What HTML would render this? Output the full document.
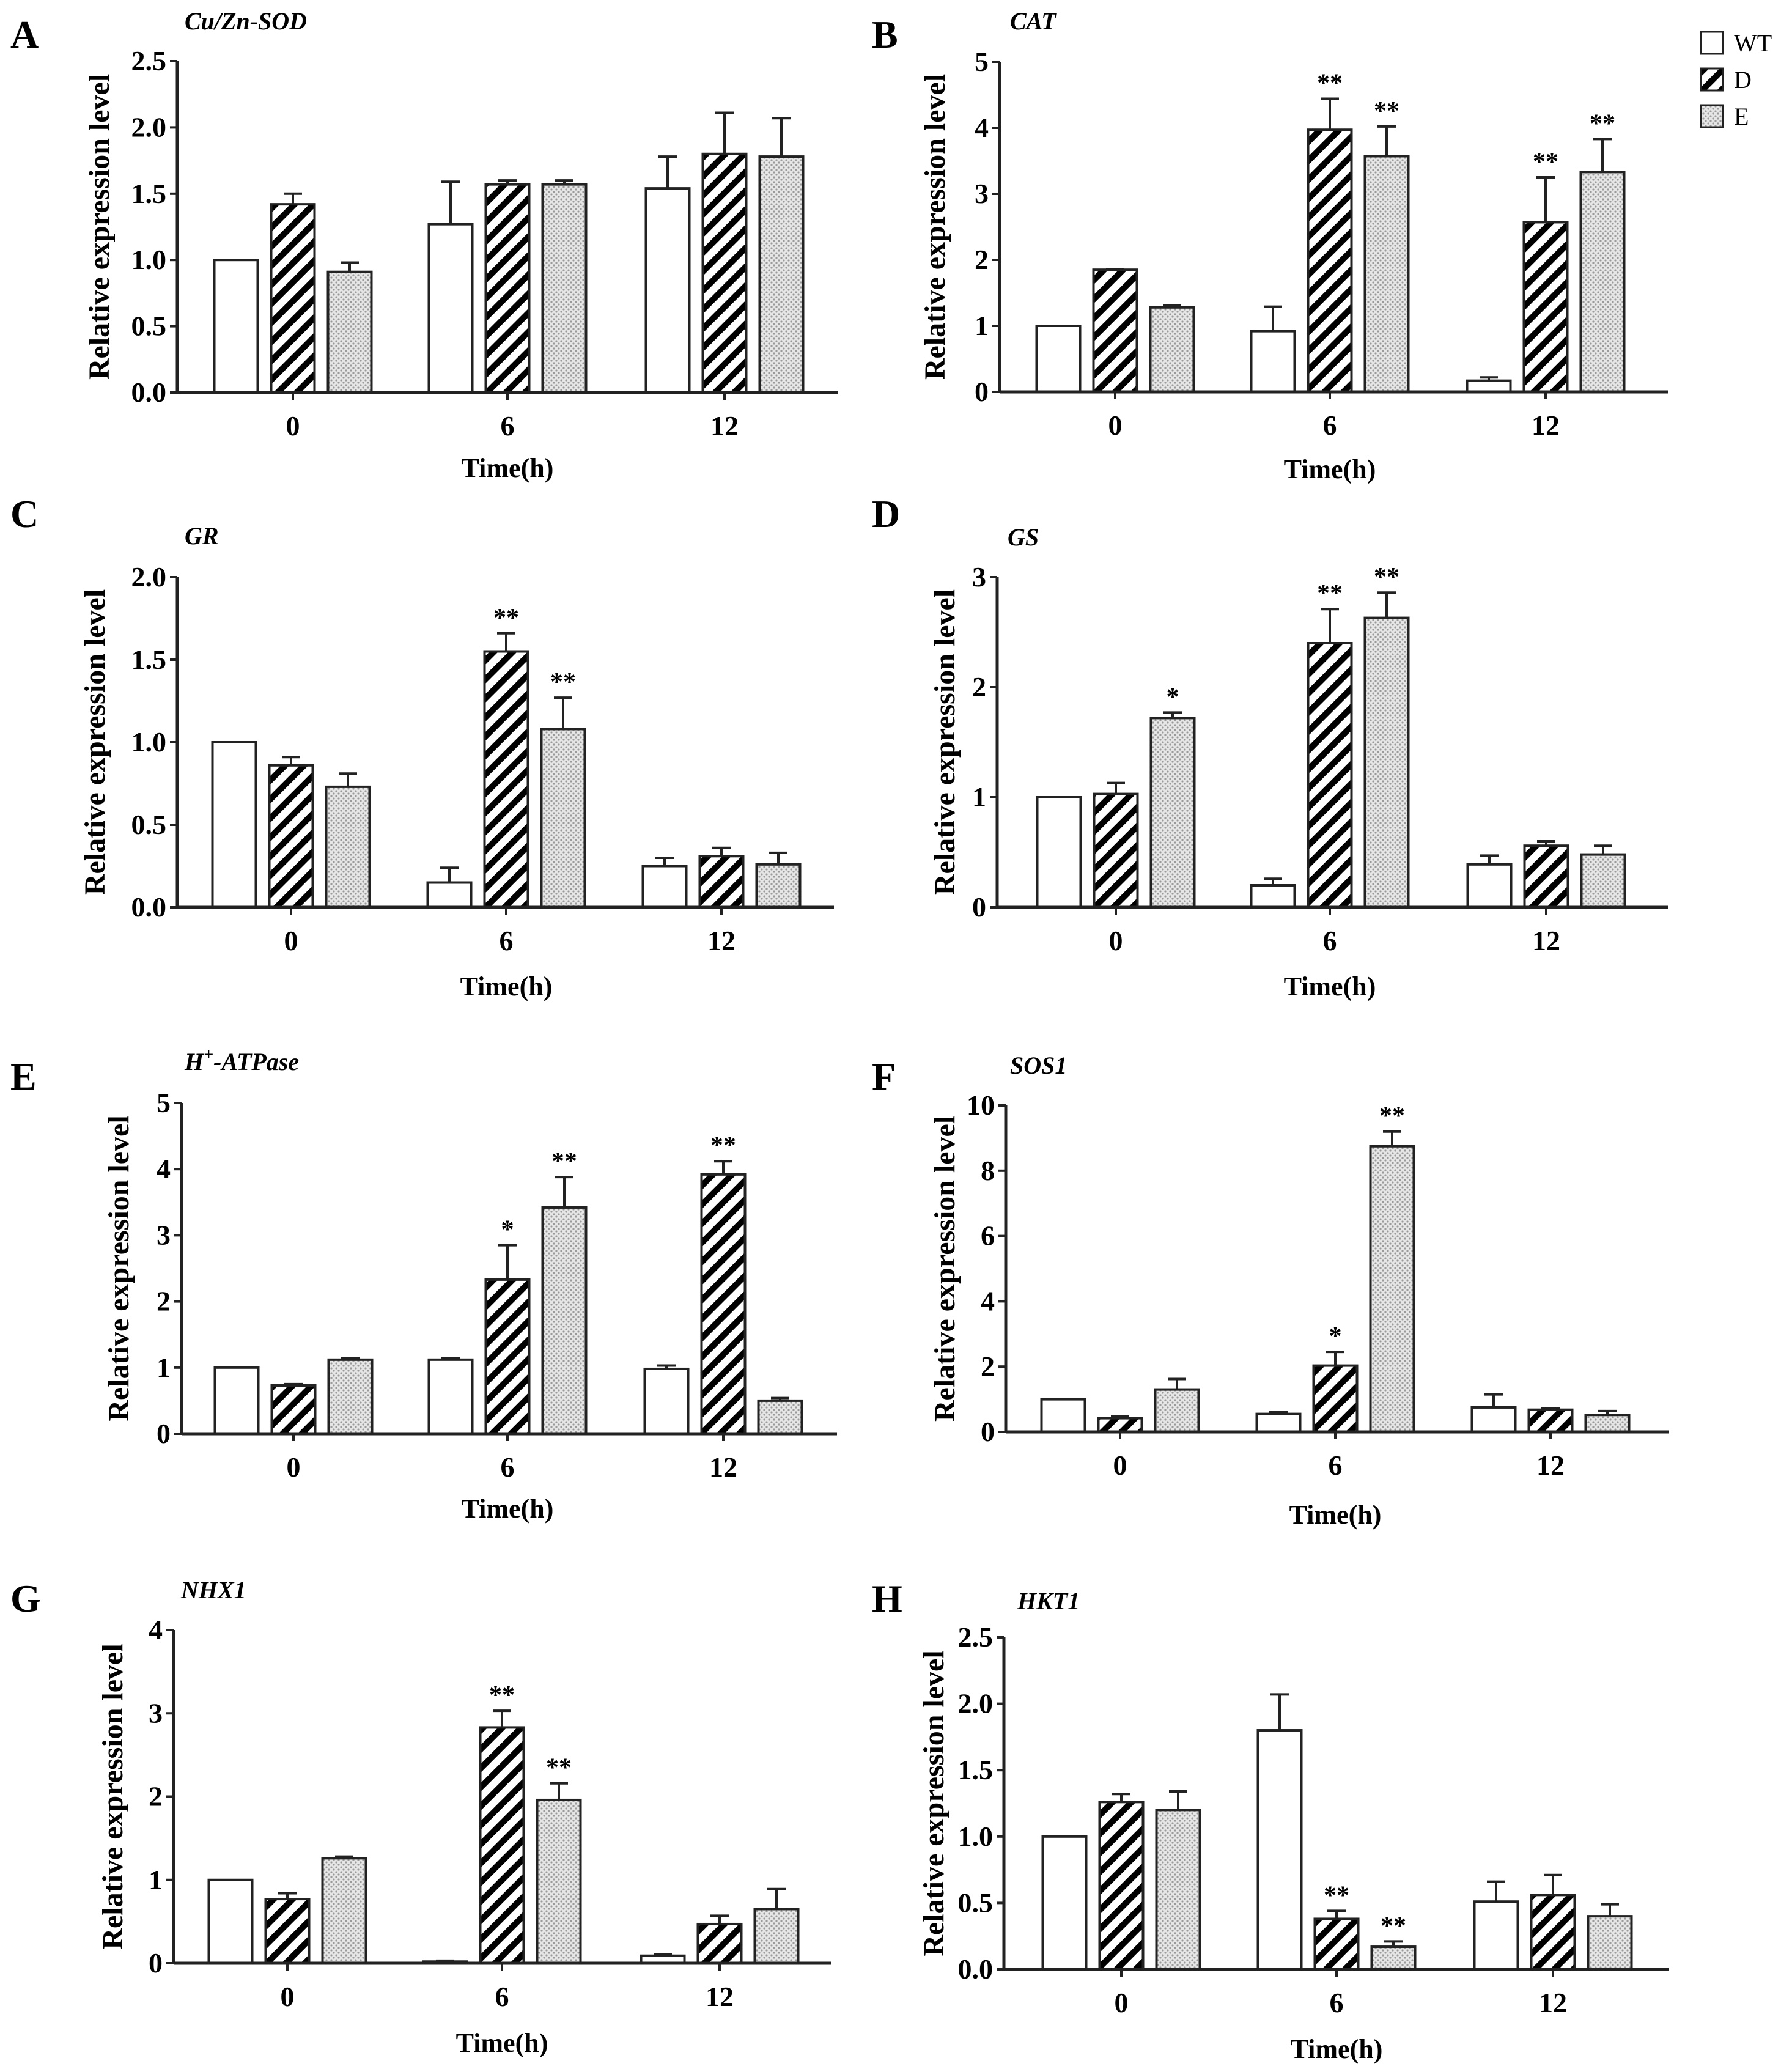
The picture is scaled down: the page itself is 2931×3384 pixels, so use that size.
<!DOCTYPE html>
<html><head><meta charset="utf-8"><style>
html,body{margin:0;padding:0;background:#fff;}
svg{display:block;font-family:"Liberation Serif",serif;}
</style></head><body>
<svg id="fig" width="2931" height="3384" viewBox="0 0 2931 3384" xmlns="http://www.w3.org/2000/svg">
<defs>
<pattern id="hatch" patternUnits="userSpaceOnUse" width="22" height="22" patternTransform="rotate(45)">
<rect width="22" height="22" fill="#fff"/><rect x="0" y="0" width="10" height="22" fill="#000"/>
</pattern>
<pattern id="dots" patternUnits="userSpaceOnUse" width="8" height="8">
<rect width="8" height="8" fill="#e6e6e6"/><circle cx="2" cy="2" r="1.6" fill="#9a9a9a"/><circle cx="6" cy="6" r="1.6" fill="#9a9a9a"/>
</pattern>
</defs>
</svg>
<script>
// ---- data ----
const categories = ["0","6","12"];
const seriesNames = ["WT","D","E"];
const panelLetters = ["A","B","C","D","E","F","G","H"];
const panelTitles = ["Cu/Zn-SOD","CAT","GR","GS","H+-ATPase","SOS1","NHX1","HKT1"];
const yMax = [2.5,5,2,3,5,10,4,2.5];
const yStep = [0.5,1,0.5,1,1,2,1,0.5];
const yDecimals = [1,0,1,0,0,0,0,1];
const wtValues = [[1,1.27,1.54],[1,0.92,0.17],[1,0.15,0.25],[1,0.2,0.39],[1,1.12,0.98],[1,0.55,0.75],[1,0.02,0.09],[1,1.8,0.51]];
const dValues = [[1.42,1.57,1.8],[1.85,3.97,2.57],[0.86,1.55,0.31],[1.03,2.4,0.56],[0.73,2.33,3.92],[0.42,2.03,0.68],[0.77,2.83,0.47],[1.26,0.38,0.56]];
const eValues = [[0.91,1.57,1.78],[1.28,3.57,3.33],[0.73,1.08,0.26],[1.72,2.63,0.48],[1.12,3.42,0.5],[1.3,8.75,0.52],[1.26,1.96,0.65],[1.2,0.17,0.4]];
const wtErr = [[0,0.32,0.24],[0,0.37,0.05],[0,0.09,0.05],[0,0.06,0.08],[0,0.02,0.05],[0,0.05,0.4],[0,0.01,0.02],[0,0.27,0.15]];
const dErr = [[0.08,0.03,0.31],[0.01,0.47,0.68],[0.05,0.11,0.05],[0.1,0.31,0.04],[0.02,0.52,0.2],[0.05,0.42,0.04],[0.07,0.2,0.1],[0.06,0.06,0.15]];
const eErr = [[0.07,0.03,0.29],[0.03,0.45,0.5],[0.08,0.19,0.07],[0.05,0.23,0.08],[0.02,0.46,0.04],[0.32,0.45,0.12],[0.02,0.2,0.24],[0.14,0.04,0.09]];
const wtStars = [["","",""],["","",""],["","",""],["","",""],["","",""],["","",""],["","",""],["","",""]];
const dStars = [["","",""],["","**","**"],["","**",""],["","**",""],["","*","**"],["","*",""],["","**",""],["","**",""]];
const eStars = [["","",""],["","**","**"],["","**",""],["*","**",""],["","**",""],["","**",""],["","**",""],["","**",""]];
// ---- layout ----
const L = [
 {ax:290,top:100,bot:642,ticks:[479,830,1185],right:1370,ylx:162,xly:780,tx:302,ty:48,lx:17,ly:78},
 {ax:1635,top:101,bot:641,ticks:[1824,2175,2528],right:2728,ylx:1529,xly:782,tx:1652,ty:48,lx:1426,ly:78},
 {ax:290,top:944,bot:1484,ticks:[476,828,1180],right:1364,ylx:155,xly:1628,tx:302,ty:890,lx:17,ly:862},
 {ax:1631,top:944,bot:1484,ticks:[1825,2175,2529],right:2728,ylx:1545,xly:1628,tx:1648,ty:892,lx:1426,ly:862},
 {ax:297,top:1804,bot:2345,ticks:[480,830,1183],right:1369,ylx:194,xly:2482,tx:302,ty:1750,lx:17,ly:1782},
 {ax:1645,top:1808,bot:2342,ticks:[1832,2184,2536],right:2730,ylx:1545,xly:2492,tx:1652,ty:1756,lx:1426,ly:1782},
 {ax:284,top:2666,bot:3211,ticks:[470,821,1177],right:1360,ylx:184,xly:3356,tx:296,ty:2614,lx:17,ly:2636},
 {ax:1642,top:2678,bot:3221,ticks:[1834,2186,2540],right:2730,ylx:1527,xly:3366,tx:1664,ty:2632,lx:1426,ly:2636}
];
const NS="http://www.w3.org/2000/svg";
const svg=document.getElementById('fig');
function mk(tag,attrs,parent,text){const e=document.createElementNS(NS,tag);for(const k in attrs)e.setAttribute(k,attrs[k]);if(text!==undefined)e.textContent=text;(parent||svg).appendChild(e);return e;}
const fills=["#fff","url(#hatch)","url(#dots)"];
const BW=71, OFF=93;
for(let p=0;p<8;p++){
  const g=mk('g',{});
  
  
  const c=L[p];
  const y=v=>c.bot-(v/yMax[p])*(c.bot-c.top);
  const lt=mk('text',{x:c.lx,y:c.ly,'font-size':64,'font-weight':'bold'},g,panelLetters[p]);
  
  
  const tt=mk('text',{x:c.tx,y:c.ty,'font-size':40,'font-weight':'bold','font-style':'italic'},g);
  
  
  if(panelTitles[p]==="H+-ATPase"){tt.textContent="H";mk('tspan',{dy:-16,'font-size':28},tt,"+");mk('tspan',{dy:16},tt,"-ATPase");}
  else tt.textContent=panelTitles[p];
  const vals=[wtValues[p],dValues[p],eValues[p]], errs=[wtErr[p],dErr[p],eErr[p]], stars=[wtStars[p],dStars[p],eStars[p]];
  for(let s=0;s<3;s++)for(let i=0;i<3;i++){
    const cx=c.ticks[i]+(s-1)*OFF, top=y(vals[s][i]), et=y(vals[s][i]+errs[s][i]);
    if(errs[s][i]>0){
      const el=mk('path',{d:`M${cx} ${top}V${et}M${cx-15} ${et}H${cx+15}`,stroke:'#222','stroke-width':4,fill:'none'},g);
      
      
    }
    const r=mk('rect',{x:cx-BW/2,y:top,width:BW,height:c.bot-top,fill:fills[s],stroke:'#222','stroke-width':4},g);
    
    
    if(stars[s][i]){
      const st=mk('text',{x:cx,y:et-12,'font-size':42,'font-weight':'bold','text-anchor':'middle'},g,stars[s][i]);
      
      
    }
  }
  const ya=mk('path',{d:`M${c.ax} ${c.top}V${c.bot}`,stroke:'#222','stroke-width':5,fill:'none'},g);
  
  
  const xa=mk('path',{d:`M${c.ax} ${c.bot}H${c.right}`,stroke:'#222','stroke-width':5,fill:'none'},g);
  
  
  for(let v=0;v<=yMax[p]+1e-9;v+=yStep[p]){
    const yy=y(v);
    mk('path',{d:`M${c.ax-12} ${yy}H${c.ax}`,stroke:'#222','stroke-width':4},g);
    const tl=mk('text',{x:c.ax-18,y:yy+15,'font-size':46,'font-weight':'bold','text-anchor':'end'},g,v.toFixed(yDecimals[p]));
    
    
  }
  for(let i=0;i<3;i++){
    mk('path',{d:`M${c.ticks[i]} ${c.bot}V${c.bot+12}`,stroke:'#222','stroke-width':4},g);
    const xl=mk('text',{x:c.ticks[i],y:c.bot+70,'font-size':46,'font-weight':'bold','text-anchor':'middle'},g,categories[i]);
    
    
  }
  const xt=mk('text',{x:c.ticks[1],y:c.xly,'font-size':44,'font-weight':'bold','text-anchor':'middle'},g,"Time(h)");
  
  
  const ym=(c.top+c.bot)/2;
  const yt=mk('text',{x:c.ylx,y:ym,'font-size':48,'font-weight':'bold','text-anchor':'middle',transform:`rotate(-90 ${c.ylx} ${ym})`,dy:16},g,"Relative expression level");
  
  
}
const lg=mk('g',{});


for(let s=0;s<3;s++){
  const yy=52+s*60;
  const r=mk('rect',{x:2782,y:yy,width:36,height:36,fill:fills[s],stroke:'#222','stroke-width':3},lg);
  
  
  const t=mk('text',{x:2836,y:yy+32,'font-size':40},lg,seriesNames[s]);
  
  
}
</script>
</body></html>
